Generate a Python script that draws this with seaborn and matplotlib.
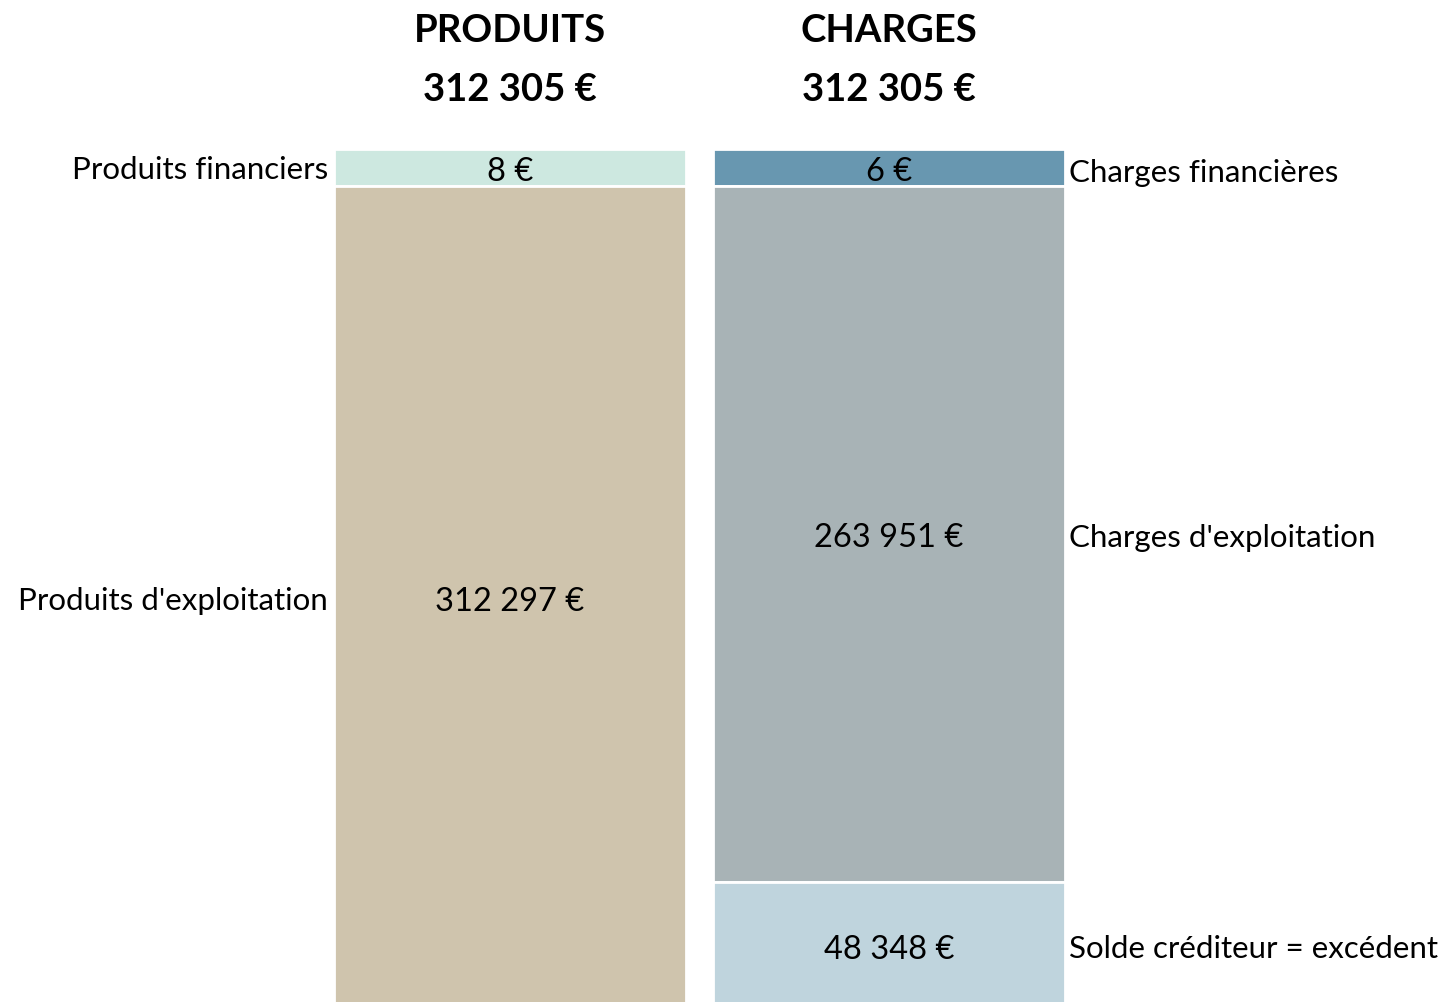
import matplotlib
matplotlib.use("Agg")
import matplotlib.pyplot as plt
import seaborn as sns
import pandas as pd

# données du compte de résultat
colonnes = ["PRODUITS", "CHARGES"]
produits_labels = ["Produits financiers", "Produits d'exploitation"]
produits_valeurs = [8, 312297]
charges_labels = ["Charges financières", "Charges d'exploitation", "Solde créditeur = excédent"]
charges_valeurs = [6, 263951, 48348]
couleurs_produits = ["#CDE8E0", "#CFC4AD"]
couleurs_charges = ["#6897B0", "#A8B3B6", "#BFD4DD"]


def fmt_euro(v):
    return f"{v:,}".replace(",", " ") + " €"


def hauteurs_affichees(valeurs, total, part_min=0.043):
    # les très petits postes reçoivent une hauteur minimale pour rester lisibles
    petits = [v for v in valeurs if v < part_min * total]
    reste = total - len(petits) * part_min * total
    grands = sum(v for v in valeurs if v >= part_min * total)
    return [part_min * total if v < part_min * total else v / grands * reste for v in valeurs]


sns.set_theme(style="white")
plt.rcParams["font.family"] = ["Lato", "DejaVu Sans"]
plt.rcParams["text.color"] = "black"

total_produits = sum(produits_valeurs)
total_charges = sum(charges_valeurs)
total = max(total_produits, total_charges)
px = total / 860  # un pixel en unités de données

fig = plt.figure(figsize=(14.42, 10.02), dpi=100)
# les barres dépassent légèrement du bas de l'image
ax = fig.add_axes([0, -7 / 1002, 1, 860 / 1002])

largeur = 352 / 379
for col, valeurs, couleurs in [(0, produits_valeurs, couleurs_produits),
                               (1, charges_valeurs, couleurs_charges)]:
    disp = hauteurs_affichees(valeurs, total)
    bas = 0
    for v, h, c in zip(valeurs, disp, couleurs):
        df = pd.DataFrame({"col": [colonnes[col]], "h": [h]})
        sns.barplot(data=df, x="col", y="h", order=colonnes, bottom=bas, color=c,
                    width=largeur, edgecolor="white", linewidth=2, saturation=1, ax=ax)
        ax.text(col, bas + h / 2 + 4.5 * px, fmt_euro(v), ha="center", va="center",
                fontsize=23.5, color="black")
        bas += h

# étiquettes des postes
disp_p = hauteurs_affichees(produits_valeurs, total)
bas = 0
for i, (lab, h) in enumerate(zip(produits_labels, disp_p)):
    ax.text(-0.5 * largeur - 0.016, bas + h / 2 + (3 if i == 0 else 4) * px, lab,
            ha="right", va="center", fontsize=22.5)
    bas += h
disp_c = hauteurs_affichees(charges_valeurs, total)
bas = 0
for i, (lab, h) in enumerate(zip(charges_labels, disp_c)):
    ax.text(1 + 0.5 * largeur + 0.01, bas + h / 2 + (6 if i == 0 else 4) * px, lab,
            ha="left", va="center", fontsize=22.5)
    bas += h

ax.set_xlim(-510 / 379, (1442 - 510) / 379)
ax.set_ylim(total, 0)
ax.axis("off")

# titres des colonnes
for col, t in zip([0, 1], [total_produits, total_charges]):
    xf = (510 + 379 * col) / 1442
    fig.text(xf, 1 - 31 / 1002, colonnes[col], ha="center", va="center",
             fontsize=27.5, fontweight="bold")
    fig.text(xf, 1 - 90 / 1002, fmt_euro(t), ha="center", va="center",
             fontsize=27.5, fontweight="bold")

fig.savefig("out.png", dpi=100)
